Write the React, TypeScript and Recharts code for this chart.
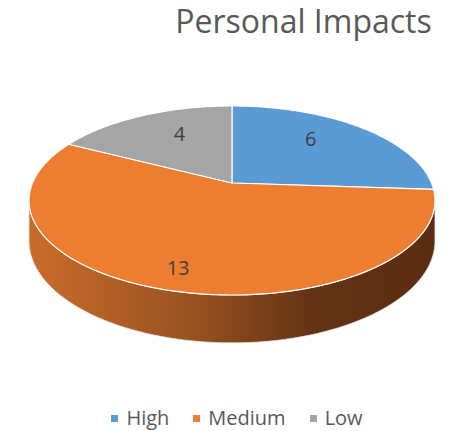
import { Cell, Legend, Pie, PieChart } from "recharts";

const categories = ["High", "Medium", "Low"];
const counts = [6, 13, 4];

const COLORS = ["#5B9BD5", "#ED7D31", "#A5A5A5"];
const FONT = "'Open Sans', sans-serif";

const W = 454;
const H = 431;
const CX = 232;
const CY = 183;
const R = 100;

// fake 3D: perspective tilt of the pie disc
const SX = 1.995;
const SY = 0.913;
const PERSP = 0.185;
const DEPTH = 39;
const SIL = (Math.asin(PERSP) * 180) / Math.PI;

// label placement along the mid angle (fraction of radius, extra dy)
const LABEL_FRACTION = [0.58, 0.85, 0.55];
const LABEL_DY = [-11, -4, -10];

const chartData = categories.map((name, i) => ({ name, value: counts[i] }));

function project(cx: number, cy: number, frac: number, outer: number, angle: number) {
  const rad = (angle * Math.PI) / 180;
  const u = frac * Math.cos(rad);
  const v = frac * Math.sin(rad);
  const w = 1 + PERSP * v;
  return { x: cx + (SX * outer * u) / w, y: cy - (SY * outer * v) / w, w };
}

function rim(cx: number, cy: number, outer: number, from: number, to: number) {
  const steps = Math.max(2, Math.ceil(Math.abs(to - from)));
  const pts = [];
  for (let i = 0; i <= steps; i++) {
    pts.push(project(cx, cy, 1, outer, from + ((to - from) * i) / steps));
  }
  return pts;
}

function renderSlice(props: any) {
  const { cx, cy, outerRadius, startAngle, endAngle, index } = props;
  const lo = Math.min(startAngle, endAngle);
  const hi = Math.max(startAngle, endAngle);

  const sides: string[] = [];
  for (const shift of [-360, 0, 360]) {
    const a = Math.max(lo, -180 + SIL + shift);
    const b = Math.min(hi, -SIL + shift);
    if (b > a) {
      const top = rim(cx, cy, outerRadius, a, b);
      const bottom = top
        .slice()
        .reverse()
        .map((p) => ({ x: p.x, y: p.y + DEPTH / p.w }));
      const all = [...top, ...bottom];
      sides.push(
        all.map((p, i) => `${i === 0 ? "M" : "L"}${p.x.toFixed(2)},${p.y.toFixed(2)}`).join(" ") + " Z"
      );
    }
  }

  const arc = rim(cx, cy, outerRadius, startAngle, endAngle);
  const topPath =
    `M${cx},${cy} ` +
    arc.map((p) => `L${p.x.toFixed(2)},${p.y.toFixed(2)}`).join(" ") +
    " Z";

  return (
    <g key={`slice-${index}`}>
      <defs>
        <linearGradient id={`side-${index}`} x1="0" y1="0" x2="1" y2="0">
          <stop offset="0%" stopColor="#C96C2A" />
          <stop offset="40%" stopColor="#9A5220" />
          <stop offset="70%" stopColor="#633214" />
          <stop offset="100%" stopColor="#5A2D11" />
        </linearGradient>
      </defs>
      {sides.map((d, i) => (
        <path key={i} d={d} fill={`url(#side-${index})`} stroke="#E6E6E6" strokeWidth={0.8} />
      ))}
      <path d={topPath} fill={COLORS[index % COLORS.length]} stroke="#FFFFFF" strokeWidth={1.2} strokeLinejoin="round" />
    </g>
  );
}

function renderValue(props: any) {
  const { cx, cy, outerRadius, midAngle, index, value } = props;
  const p = project(cx, cy, LABEL_FRACTION[index], outerRadius, midAngle);
  return (
    <text
      key={`label-${index}`}
      x={p.x}
      y={p.y + LABEL_DY[index]}
      textAnchor="middle"
      dominantBaseline="central"
      fill="#404040"
      fontSize={20}
      fontFamily={FONT}
    >
      {value}
    </text>
  );
}

function renderLegend() {
  return (
    <div
      style={{
        display: "flex",
        justifyContent: "center",
        alignItems: "center",
        paddingLeft: 20,
        fontFamily: FONT,
        fontSize: 20,
        lineHeight: "20px",
        color: "#595959",
      }}
    >
      {categories.map((name, i) => (
        <div key={name} style={{ display: "flex", alignItems: "center", marginLeft: i === 0 ? 0 : 24 }}>
          <span style={{ width: 7, height: 7, background: COLORS[i], marginRight: 8, display: "inline-block" }} />
          <span>{name}</span>
        </div>
      ))}
    </div>
  );
}

export default function App() {
  return (
    <div style={{ position: "absolute", left: 0, top: 0, width: W, height: H, background: "#fff" }}>
      <div
        style={{
          position: "absolute",
          left: 153,
          top: 5,
          width: 301,
          textAlign: "center",
          fontFamily: FONT,
          fontSize: 32,
          lineHeight: "32px",
          color: "#595959",
        }}
      >
        Personal Impacts
      </div>
      <PieChart width={W} height={H} margin={{ top: 0, right: 0, bottom: 0, left: 0 }}>
        <Pie
          data={chartData}
          dataKey="value"
          nameKey="name"
          cx={CX}
          cy={CY}
          outerRadius={R}
          startAngle={90}
          endAngle={-270}
          fillOpacity={0}
          strokeWidth={0}
          label={renderSlice}
          labelLine={false}
          isAnimationActive={false}
        >
          {chartData.map((_, i) => (
            <Cell key={i} fill={COLORS[i]} />
          ))}
        </Pie>
        <Pie
          data={chartData}
          dataKey="value"
          nameKey="name"
          cx={CX}
          cy={CY}
          outerRadius={R}
          startAngle={90}
          endAngle={-270}
          fillOpacity={0}
          strokeWidth={0}
          legendType="none"
          label={renderValue}
          labelLine={false}
          isAnimationActive={false}
        />
        <Legend content={renderLegend} wrapperStyle={{ top: 408, left: 0, width: W }} />
      </PieChart>
    </div>
  );
}
